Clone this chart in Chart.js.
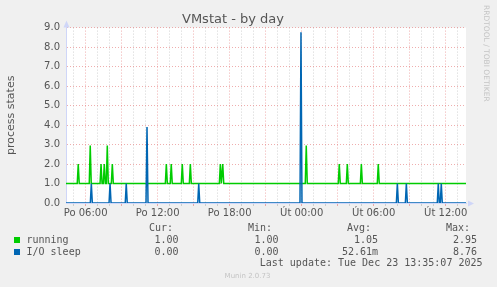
<!DOCTYPE html>
<html>
<head>
<meta charset="utf-8">
<title>VMstat - by day</title>
<script src="https://cdn.jsdelivr.net/npm/chart.js@4/dist/chart.umd.min.js"></script>
<style>
  body { margin: 0; background: #f0f0f0; }
  canvas { display: block; }
</style>
</head>
<body>
<canvas id="chart" width="497" height="287"></canvas>
<script>
// x values are hours counted from Monday (Po) 00:00
const rangeStart = 4.36;
const rangeEnd = 37.69;
const step = 5 / 60; // munin samples every 5 minutes

const tickHours = [6, 12, 18, 24, 30, 36];
const tickLabels = ['Po 06:00', 'Po 12:00', 'Po 18:00', 'Út 00:00', 'Út 06:00', 'Út 12:00'];

const runningBase = 1.0;
const runningSpikeHours = [5.38, 6.38, 7.28, 7.55, 7.80, 8.22, 12.72, 13.13, 14.05, 14.72, 17.22, 17.42, 24.38, 27.13, 27.80, 28.97, 30.38];
const runningSpikeValues = [2.0, 2.95, 2.0, 2.0, 2.95, 2.0, 2.0, 2.0, 2.0, 2.0, 2.0, 2.0, 2.95, 2.0, 2.0, 2.0, 2.0];

const ioBase = 0.0;
const ioSpikeHours = [6.47, 8.03, 9.38, 11.11, 15.42, 23.94, 31.97, 32.72, 35.38, 35.63];
const ioSpikeValues = [1.0, 1.0, 1.0, 3.9, 1.0, 8.76, 1.0, 1.0, 1.0, 1.0];

// legend table
const seriesNames = ['running', 'I/O sleep'];
const seriesColors = ['#00cc00', '#0066b3'];
const curValues = ['1.00', '0.00'];
const minValues = ['1.00', '0.00'];
const avgValues = ['1.05', '52.61m'];
const maxValues = ['2.95', '8.76'];
const lastUpdate = 'Last update: Tue Dec 23 13:35:07 2025';

const fontColor = '#555555';
const axisColor = '#cfd6f8';
const majorGrid = 'rgba(228, 120, 120, 0.6)';
const minorGrid = 'rgba(170, 170, 170, 0.5)';

function buildSeries(base, hours, values) {
    const pts = [{ x: rangeStart, y: base }];
    hours.forEach((h, i) => {
        pts.push({ x: h - step, y: base });
        pts.push({ x: h, y: values[i] });
        pts.push({ x: h + step, y: base });
    });
    pts.push({ x: rangeEnd, y: base });
    return pts;
}

const muninDecor = {
    id: 'muninDecor',
    beforeDraw(chart) {
        const { ctx, chartArea: a } = chart;
        ctx.save();
        ctx.fillStyle = '#f0f0f0';
        ctx.fillRect(0, 0, chart.width, chart.height);
        ctx.fillStyle = '#ffffff';
        ctx.fillRect(a.left, a.top, a.right - a.left, a.bottom - a.top);
        ctx.restore();
    },
    afterDraw(chart) {
        const { ctx, chartArea: a } = chart;
        ctx.save();

        // axis arrows
        ctx.fillStyle = axisColor;
        ctx.beginPath();
        ctx.moveTo(a.left + 0.5, a.top - 7);
        ctx.lineTo(a.left - 2.5, a.top);
        ctx.lineTo(a.left + 3.5, a.top);
        ctx.closePath();
        ctx.fill();
        ctx.beginPath();
        ctx.moveTo(a.right + 8, a.bottom + 0.5);
        ctx.lineTo(a.right + 2, a.bottom - 2.5);
        ctx.lineTo(a.right + 2, a.bottom + 3.5);
        ctx.closePath();
        ctx.fill();

        // legend table
        ctx.font = '10px "DejaVu Sans Mono"';
        ctx.fillStyle = fontColor;
        ctx.textBaseline = 'middle';
        ctx.textAlign = 'right';
        const headers = ['Cur:', 'Min:', 'Avg:', 'Max:'];
        const headerX = [173, 272, 371, 470];
        headers.forEach((h, i) => ctx.fillText(h, headerX[i], 228));

        const valueX = [178.5, 278.5, 378, 477];
        const rowY = [240, 252];
        seriesNames.forEach((name, r) => {
            ctx.fillStyle = seriesColors[r];
            ctx.fillRect(14, rowY[r] - 3, 6, 6);
            ctx.fillStyle = fontColor;
            ctx.textAlign = 'left';
            ctx.fillText(name, 26.5, rowY[r]);
            ctx.textAlign = 'right';
            const cols = [curValues[r], minValues[r], avgValues[r], maxValues[r]];
            cols.forEach((v, i) => ctx.fillText(v, valueX[i], rowY[r]));
        });
        ctx.fillText(lastUpdate, 482.5, 263.5);

        // watermarks
        ctx.fillStyle = '#c4c4c4';
        ctx.font = '7px "DejaVu Sans"';
        ctx.textAlign = 'center';
        ctx.fillText('Munin 2.0.73', 247.5, 276.5);

        ctx.translate(486, 5);
        ctx.rotate(Math.PI / 2);
        ctx.font = '7.5px "DejaVu Sans"';
        ctx.textAlign = 'left';
        ctx.fillText('RRDTOOL / TOBI OETIKER', 0, 0);
        ctx.restore();
    }
};

new Chart(document.getElementById('chart'), {
    type: 'line',
    data: {
        datasets: [{
            label: seriesNames[1],
            data: buildSeries(ioBase, ioSpikeHours, ioSpikeValues),
            borderColor: seriesColors[1],
            borderWidth: 1.5,
            order: 0
        }, {
            label: seriesNames[0],
            data: buildSeries(runningBase, runningSpikeHours, runningSpikeValues),
            borderColor: seriesColors[0],
            borderWidth: 1.5,
            order: 1
        }]
    },
    options: {
        responsive: false,
        animation: false,
        events: [],
        elements: {
            point: { radius: 0 },
            line: { tension: 0, fill: false }
        },
        layout: { padding: { left: 0, right: 31, top: 0, bottom: 0 } },
        plugins: {
            legend: { display: false },
            tooltip: { enabled: false },
            title: {
                display: true,
                text: 'VMstat - by day',
                color: fontColor,
                font: { family: 'DejaVu Sans', size: 13, weight: 'normal' },
                padding: { top: 12, bottom: 0 }
            }
        },
        scales: {
            x: {
                type: 'linear',
                min: rangeStart,
                max: rangeEnd,
                afterFit: (scale) => { scale.height = 84; },
                ticks: {
                    stepSize: 1,
                    includeBounds: false,
                    autoSkip: false,
                    maxRotation: 0,
                    minRotation: 0,
                    padding: 1,
                    color: fontColor,
                    font: { family: 'DejaVu Sans', size: 10 },
                    callback: (v) => {
                        const i = tickHours.indexOf(v);
                        return i >= 0 ? tickLabels[i] : '';
                    }
                },
                grid: {
                    color: (ctx) => (ctx.tick && ctx.tick.value % 3 === 0) ? majorGrid : minorGrid,
                    tickLength: 3,
                    lineWidth: 1
                },
                border: { color: axisColor, dash: [1, 2] }
            },
            y: {
                min: 0,
                max: 9,
                afterFit: (scale) => { scale.width = 66; },
                ticks: {
                    stepSize: 0.5,
                    padding: 6,
                    color: fontColor,
                    font: { family: 'DejaVu Sans', size: 10 },
                    callback: (v) => Number.isInteger(v) ? v.toFixed(1) : ''
                },
                grid: {
                    color: (ctx) => (ctx.tick && Number.isInteger(ctx.tick.value)) ? majorGrid : minorGrid,
                    drawTicks: false,
                    lineWidth: 1
                },
                border: { color: axisColor, dash: [1, 2] },
                title: {
                    display: true,
                    text: 'process states',
                    color: fontColor,
                    font: { family: 'DejaVu Sans', size: 11 },
                    padding: { top: 5, bottom: 0 }
                }
            }
        }
    },
    plugins: [muninDecor]
});
</script>
</body>
</html>
